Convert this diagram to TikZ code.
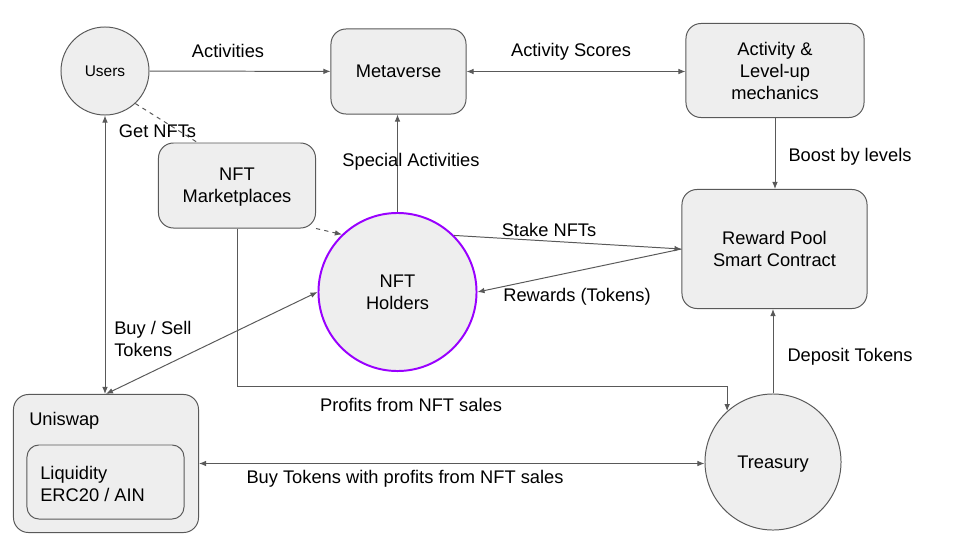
\documentclass[tikz,border=0pt]{standalone}
\usepackage{fontspec}
\setmainfont{Liberation Sans}
\usetikzlibrary{arrows.meta,calc}
\definecolor{boxfill}{HTML}{EEEEEE}
\definecolor{edge}{HTML}{595959}
\definecolor{holder}{HTML}{9900FF}
\begin{document}
\begin{tikzpicture}[x=0.025cm,y=-0.025cm,font=\fontsize{13}{15.6}\selectfont,
  bx/.style={draw=edge,fill=boxfill,rounded corners=0.375cm,line width=0.7pt,align=center,inner sep=0pt,text depth=0pt},
  ball/.style={draw=edge,fill=boxfill,circle,line width=0.7pt,align=center,inner sep=0pt,text depth=0pt},
  lbl/.style={inner sep=0pt,align=center},
  ln/.style={draw=edge,line width=0.7pt},
  tip/.style={ln,-{Latex[length=5pt,width=4pt]}},
  tips/.style={ln,{Latex[length=5pt,width=4pt]}-{Latex[length=5pt,width=4pt]}}]
  \useasboundingbox (0,0) rectangle (960,540);
  \node[ball,minimum size=2.2cm,font=\fontsize{11}{13}\selectfont] (users) at (105,71){Users};
  \node[bx,minimum width=3.375cm,minimum height=2.125cm] (meta) at (398.5,71.5){Metaverse};
  \node[bx,minimum width=4.45cm,minimum height=2.35cm] (mech) at (775,70.5){Activity \&\\Level-up\\mechanics};
  \node[bx,minimum width=3.925cm,minimum height=2.125cm] (market) at (237,185.5){NFT\\Marketplaces};
  \node[ball,draw=holder,line width=1.4pt,minimum size=3.95cm] (holders) at (397.5,292){NFT\\Holders};
  \node[bx,minimum width=4.625cm,minimum height=2.975cm] (reward) at (774.5,249){Reward Pool\\Smart Contract};
  \node[bx,minimum width=4.625cm,minimum height=3.45cm] (uniswap) at (106,463.5){};
  \node[lbl,anchor=west] (uniname) at (29,421){Uniswap};
  \node[bx,rounded corners=0.3cm,minimum width=3.925cm,minimum height=1.85cm] (pool) at (105.5,482){};
  \node[lbl,anchor=west,align=left] (pooltext) at (40,484){Liquidity\\ERC20 / AIN};
  \node[ball,minimum size=3.4cm] (treasury) at (773,462){Treasury};
  \coordinate (profits) at (0,386);
  \draw[tip] (users) -- (meta);
  \draw[tips] (meta.east) -- (meta.east -| mech.west);
  \draw[tip] (mech.south) -- (mech.south |- reward.north);
  \draw[tip] (holders.north) -- (holders.north |- meta.south);
  \draw[tips] (users.south) -- (users.south |- uniswap.north);
  \draw[tips] (holders.west) -- (uniswap.north);
  \draw[tip] (holders.45) -- (reward.west);
  \draw[tip] (reward.west) -- (holders.east);
  \draw[ln,dashed] (users.-47) -- ($(market.north west)!0.25!(market.north east)$);
  \draw[tip,dashed] (market.south east) -- (holders.134);
  \draw[tip] (market.south) |- (treasury.132 |- profits) -- (treasury.132);
  \draw[tip] (treasury.north) -- (treasury.north |- reward.south);
  \draw[tips] (uniswap.east) -- (uniswap.east -| treasury.west);
  \node[lbl] (l1) at (228,51){Activities};
  \node[lbl] (l2) at (571,51.5){Activity Scores};
  \node[lbl] (l3) at (411,161.5){Special Activities};
  \node[lbl] (l4) at (850,156.5){Boost by levels};
  \node[lbl] (l5) at (157.5,131){Get NFTs};
  \node[lbl] (l6) at (549,229.5){Stake NFTs};
  \node[lbl] (l7) at (577,297){Rewards (Tokens)};
  \node[lbl,anchor=west,align=left] (l8) at (114,339){Buy / Sell\\Tokens};
  \node[lbl] (l9) at (411,405){Profits from NFT sales};
  \node[lbl] (l10) at (405,479){Buy Tokens with profits from NFT sales};
  \node[lbl] (l11) at (850,356.5){Deposit Tokens};
\end{tikzpicture}
\end{document}
